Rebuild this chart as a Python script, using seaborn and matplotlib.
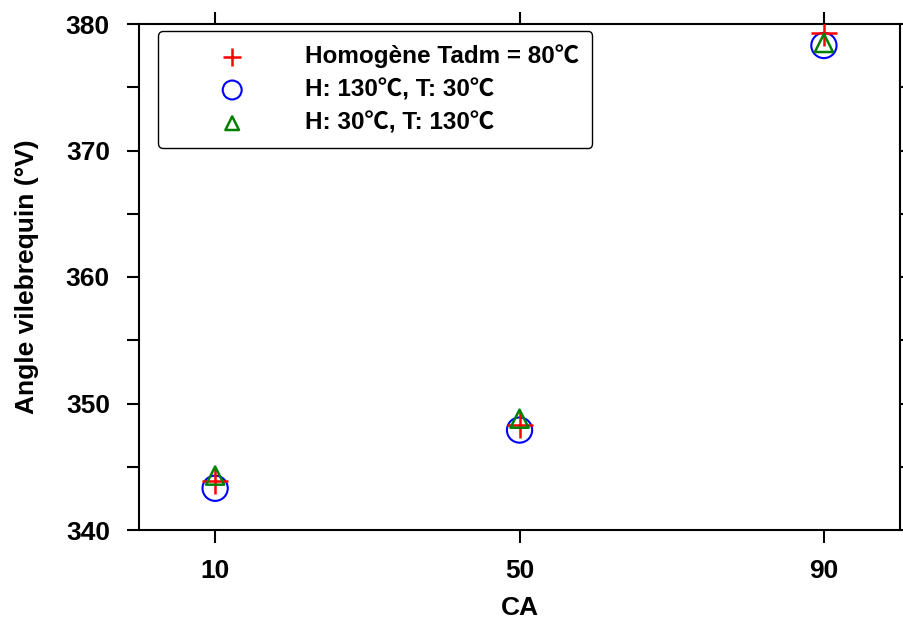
import pandas as pd
import seaborn as sns
import matplotlib.pyplot as plt
from matplotlib.ticker import MultipleLocator

# values
ca = [10, 50, 90]
homogene = [343.9, 348.3, 379.3]
h130_t30 = [343.3, 347.9, 378.3]
h30_t130 = [344.3, 348.8, 378.5]
labels = ['Homogène Tadm = 80℃', 'H: 130℃, T: 30℃', 'H: 30℃, T: 130℃']

df = pd.DataFrame({'CA': ca, 'homo': homogene, 'h130': h130_t30, 'h30': h30_t130})

sns.set_style('ticks')
plt.rcParams['font.family'] = ['Liberation Sans', 'Noto Sans CJK SC', 'DejaVu Sans']
plt.rcParams['font.weight'] = 'bold'
plt.rcParams['text.color'] = 'black'
plt.rcParams['axes.labelcolor'] = 'black'
plt.rcParams['xtick.color'] = 'black'
plt.rcParams['ytick.color'] = 'black'

fig = plt.figure(figsize=(9.04, 6.25), dpi=100)
ax = fig.add_axes([0.1538, 0.152, 0.8418, 0.8096])

sns.scatterplot(data=df, x='CA', y='homo', marker='+', s=330, color='red',
                linewidth=1.8, label=labels[0], ax=ax, zorder=3)
sns.scatterplot(data=df, x='CA', y='h130', marker='o', s=330, facecolor='none',
                edgecolor='blue', linewidth=1.5, label=labels[1], ax=ax, zorder=2)
sns.scatterplot(data=df, x='CA', y='h30', marker='^', s=170, facecolor='none',
                edgecolor='green', linewidth=1.8, label=labels[2], ax=ax, zorder=4)

ax.set_xlim(0, 100)
ax.set_ylim(340, 380)
ax.set_xticks(ca)
ax.set_yticks([340, 350, 360, 370, 380])
ax.yaxis.set_minor_locator(MultipleLocator(5))
ax.tick_params(which='both', direction='out', length=9, width=1.5,
               top=True, right=True, labelsize=19)
ax.tick_params(axis='y', pad=12)
ax.tick_params(axis='x', pad=12)
for s in ax.spines.values():
    s.set_linewidth(1.5)
    s.set_color('black')

ax.set_xlabel('CA', fontsize=19, fontweight='bold', labelpad=9)
ax.set_ylabel('Angle vilebrequin (°V)', fontsize=19, fontweight='bold', labelpad=19)

leg = ax.legend(loc='upper left', bbox_to_anchor=(0.025, 0.986), fontsize=17.5,
                frameon=True, fancybox=True, edgecolor='black', framealpha=1,
                borderaxespad=0, borderpad=0.55, handlelength=5.0, handletextpad=0.5,
                labelspacing=0.42, markerscale=0.75)
leg.get_frame().set_linewidth(1.0)

fig.savefig('out.png', dpi=100)
